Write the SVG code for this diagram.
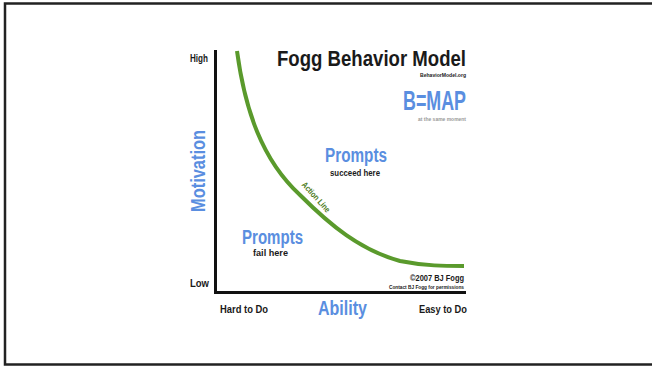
<svg xmlns="http://www.w3.org/2000/svg" width="652" height="367" viewBox="0 0 652 367">
<style>
text{font-family:"Liberation Sans","DejaVu Sans",sans-serif;font-weight:bold}
.blk{fill:#1a1a1a}
.blue{fill:#5a8ee0}
.axis{stroke:#111;stroke-width:3;fill:none}
</style>
<rect width="652" height="367" fill="#fff"/>
<path d="M652,3.5 H5 V364.5 H652" fill="none" stroke="#222" stroke-width="2.5"/>
<g id="axes">
<line class="axis" x1="215.5" y1="50" x2="215.5" y2="294"/>
<line class="axis" x1="214" y1="292.5" x2="466" y2="292.5"/>
</g>
<g id="curve">
<path d="M237,51 C245,110 262,160 300,195 C330,225 360,250 400,261 C425,266 445,266 464,266" fill="none" stroke="#5a9a2c" stroke-width="4"/>
<text x="0" y="0" font-size="8.5" fill="#4a7a20" transform="translate(314,199) rotate(48)" text-anchor="middle" textLength="38" lengthAdjust="spacingAndGlyphs">Action Line</text>
</g>
<g id="labels">
<text class="blk" x="190" y="62" font-size="10" textLength="18" lengthAdjust="spacingAndGlyphs">High</text>
<text class="blk" x="190" y="287" font-size="10" textLength="19" lengthAdjust="spacingAndGlyphs">Low</text>
<text class="blk" x="277" y="66" font-size="22" textLength="189" lengthAdjust="spacingAndGlyphs">Fogg Behavior Model</text>
<text class="blk" x="466" y="77" font-size="6" text-anchor="end" textLength="46" lengthAdjust="spacingAndGlyphs">BehaviorModel.org</text>
<text class="blue" x="403" y="110" font-size="28" textLength="63" lengthAdjust="spacingAndGlyphs">B=MAP</text>
<text x="466" y="121" font-size="4.5" fill="#999" font-weight="normal" text-anchor="end" textLength="48" lengthAdjust="spacingAndGlyphs">at the same moment</text>
<text class="blue" x="0" y="0" font-size="20" text-anchor="middle" transform="translate(205,171) rotate(-90)" textLength="82" lengthAdjust="spacingAndGlyphs">Motivation</text>
<text class="blue" x="325" y="162" font-size="20" textLength="62" lengthAdjust="spacingAndGlyphs">Prompts</text>
<text class="blk" x="330" y="176" font-size="8.5" textLength="50" lengthAdjust="spacingAndGlyphs">succeed here</text>
<text class="blue" x="242" y="244" font-size="20" textLength="61" lengthAdjust="spacingAndGlyphs">Prompts</text>
<text class="blk" x="253" y="256" font-size="8.5" textLength="35" lengthAdjust="spacingAndGlyphs">fail here</text>
<text class="blk" x="464" y="281" font-size="8.5" font-weight="normal" text-anchor="end" textLength="54" lengthAdjust="spacingAndGlyphs">©2007 BJ Fogg</text>
<text class="blk" x="464" y="289" font-size="5" font-weight="normal" text-anchor="end" textLength="75" lengthAdjust="spacingAndGlyphs">Contact BJ Fogg for permissions</text>
<text class="blk" x="220" y="313" font-size="11" textLength="48" lengthAdjust="spacingAndGlyphs">Hard to Do</text>
<text class="blue" x="318" y="315" font-size="20" textLength="49" lengthAdjust="spacingAndGlyphs">Ability</text>
<text class="blk" x="419" y="313" font-size="11" textLength="48" lengthAdjust="spacingAndGlyphs">Easy to Do</text>
</g>
</svg>
